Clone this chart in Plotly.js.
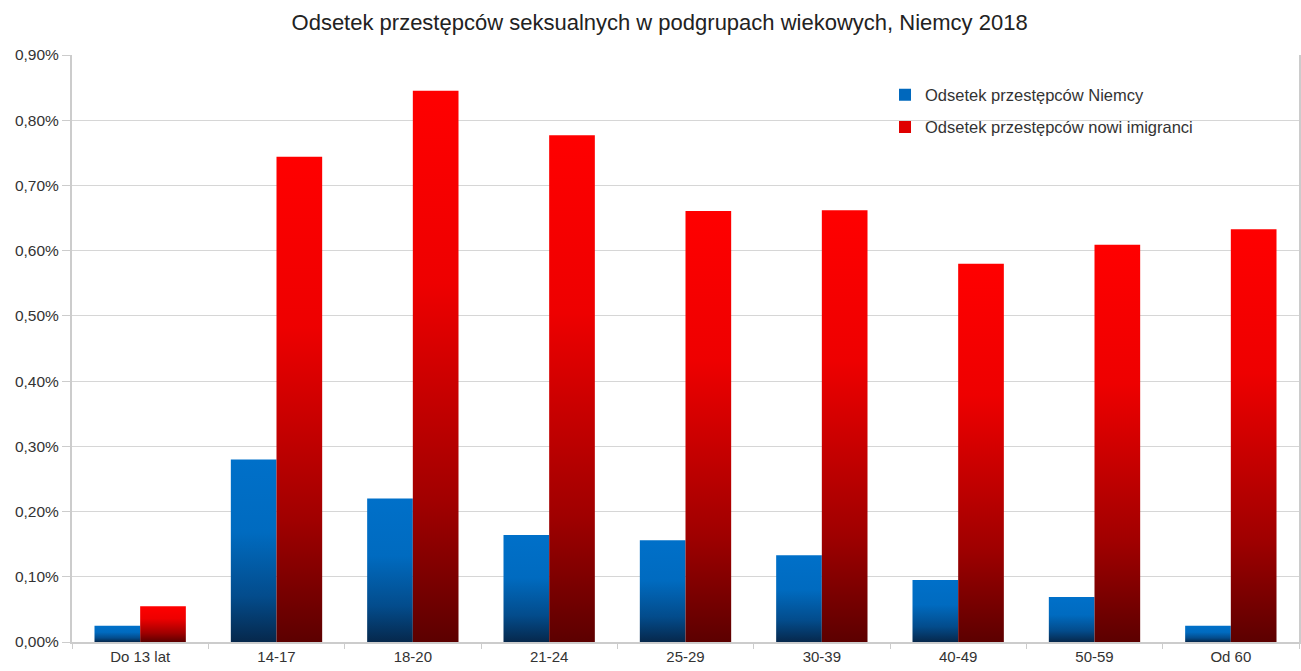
<!DOCTYPE html>
<html>
<head>
<meta charset="utf-8">
<script src="https://cdn.plot.ly/plotly-3.0.1.min.js"></script>
<style>
  html, body { margin: 0; padding: 0; background: #ffffff; }
  #chart { width: 1301px; height: 671px; }
</style>
</head>
<body>
<div id="chart"></div>
<script>
const categories = ["Do 13 lat", "14-17", "18-20", "21-24", "25-29", "30-39", "40-49", "50-59", "Od 60"];
const germansShare = [0.00025, 0.0028, 0.0022, 0.00164, 0.00156, 0.00133, 0.00095, 0.00069, 0.00025];
const immigrantsShare = [0.00055, 0.00744, 0.00845, 0.00777, 0.00661, 0.00662, 0.0058, 0.00609, 0.00633];
const seriesNames = ["Odsetek przestępców Niemcy", "Odsetek przestępców nowi imigranci"];
const titleText = "Odsetek przestępców seksualnych w podgrupach wiekowych, Niemcy 2018";

const font = "Liberation Sans, Arial, Helvetica, sans-serif";

const traces = [
  {
    type: "bar", name: seriesNames[0], x: categories, y: germansShare,
    marker: { color: "#0068bd", line: { width: 0 } }, legend: "legend"
  },
  {
    type: "bar", name: seriesNames[1], x: categories, y: immigrantsShare,
    marker: { color: "#e00000", line: { width: 0 } }, legend: "legend2"
  }
];

const legendCommon = {
  xref: "paper", yref: "paper", xanchor: "left", yanchor: "middle",
  bgcolor: "rgba(0,0,0,0)", borderwidth: 0,
  font: { family: font, size: 16.5, color: "#333333" },
  itemwidth: 30, tracegroupgap: 0
};

const layout = {
  width: 1301, height: 671,
  margin: { l: 72, r: 2, t: 55, b: 29 },
  paper_bgcolor: "#ffffff", plot_bgcolor: "#ffffff",
  separators: ", ",
  font: { family: font, color: "#333333" },
  title: {
    text: titleText, x: 0.507, xref: "container", xanchor: "center",
    y: 0.967, yref: "container", yanchor: "middle",
    font: { family: font, size: 22, color: "#222222" }
  },
  barmode: "group", bargap: 0.33, bargroupgap: 0,
  xaxis: {
    type: "category", showgrid: false, showline: true, linecolor: "#cccccc", linewidth: 2,
    ticks: "outside", tickson: "boundaries", ticklen: 5, tickcolor: "#cccccc",
    tickfont: { family: font, size: 15, color: "#333333" }, fixedrange: true
  },
  yaxis: {
    range: [0, 0.009], dtick: 0.001, tick0: 0, tickformat: ".2%",
    showgrid: true, gridcolor: "#d6d6d6", gridwidth: 1,
    showline: true, linecolor: "#cccccc", linewidth: 2, mirror: true,
    ticks: "outside", ticklen: 8, tickcolor: "#cccccc",
    tickfont: { family: font, size: 15.5, color: "#333333" },
    zeroline: false, fixedrange: true
  },
  showlegend: true,
  legend: Object.assign({}, legendCommon, { x: 0.6626, y: 0.932 }),
  legend2: Object.assign({}, legendCommon, { x: 0.6626, y: 0.877 })
};

Plotly.newPlot("chart", traces, layout, { staticPlot: true, displayModeBar: false }).then(function (gd) {
  const svgNS = "http://www.w3.org/2000/svg";
  const svg = gd.querySelector("svg.main-svg");
  let defs = svg.querySelector("defs");
  if (!defs) { defs = document.createElementNS(svgNS, "defs"); svg.insertBefore(defs, svg.firstChild); }
  function addGrad(id, stops) {
    const g = document.createElementNS(svgNS, "linearGradient");
    g.setAttribute("id", id);
    g.setAttribute("x1", "0"); g.setAttribute("y1", "0");
    g.setAttribute("x2", "0"); g.setAttribute("y2", "1");
    stops.forEach(function (s) {
      const st = document.createElementNS(svgNS, "stop");
      st.setAttribute("offset", s[0]);
      st.setAttribute("stop-color", s[1]);
      g.appendChild(st);
    });
    defs.appendChild(g);
  }
  addGrad("gradBlue", [["0", "#0070c9"], ["0.4", "#006bc0"], ["0.75", "#034c8c"], ["1", "#06284c"]]);
  addGrad("gradRed", [["0", "#ff0000"], ["0.35", "#ee0000"], ["0.75", "#a00000"], ["1", "#5c0000"]]);
  const grads = ["url(#gradBlue)", "url(#gradRed)"];
  gd.querySelectorAll(".barlayer .trace").forEach(function (tr, i) {
    tr.querySelectorAll(".point path").forEach(function (p) {
      p.style.fill = grads[i % 2];
    });
  });
});
</script>
</body>
</html>
